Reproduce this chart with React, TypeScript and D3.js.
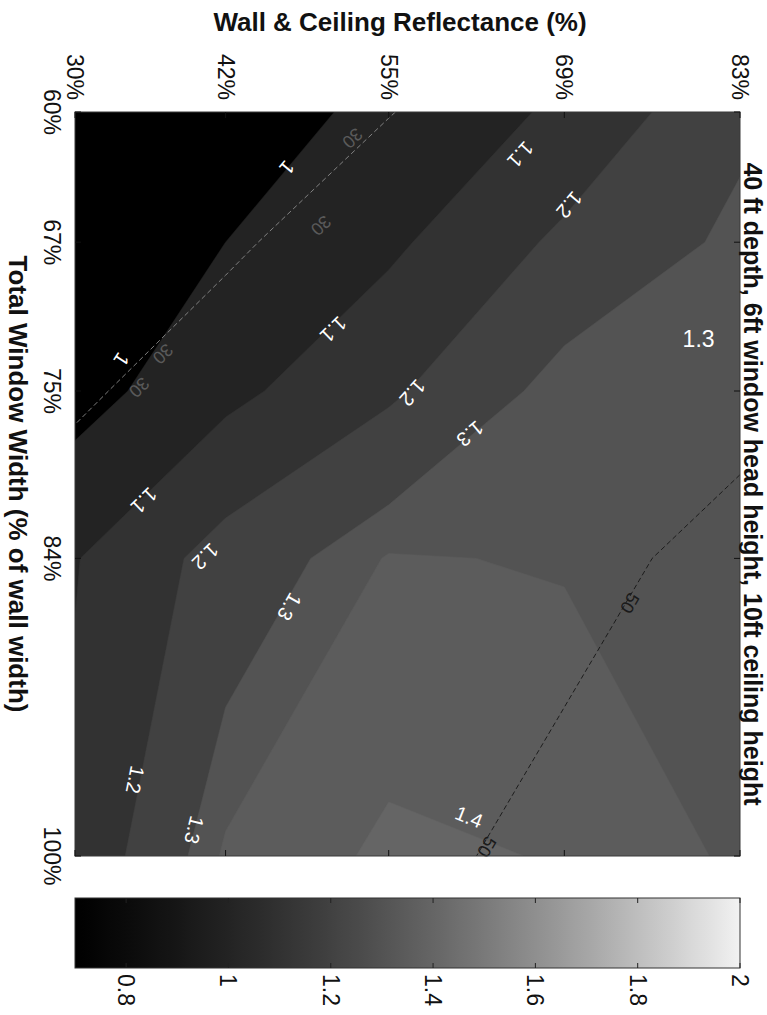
import React from "react";
import * as d3 from "d3";

// ---- data ----
const windowWidthTicks = [60, 67, 75, 84, 100]; // Total window width (% of wall width)
const reflectanceTicks = [30, 42, 55, 69, 83]; // Wall & ceiling reflectance (%)

// rows: window width (60 -> 100), cols: reflectance (30 -> 83)
const ratioGrid: number[][] = [
  [0.8, 0.98, 1.01, 1.12, 1.28],
  [0.88, 1.0, 1.081, 1.22, 1.32],
  [0.96, 1.074, 1.183, 1.335, 1.33],
  [1.095, 1.24, 1.355, 1.345, 1.33],
  [1.12, 1.36, 1.41, 1.397, 1.34],
];
const ratioLevels = [1.0, 1.1, 1.2, 1.3, 1.35, 1.4];

// secondary metric drawn as dashed isolines (labels 30 / 50)
const percentGrid: number[][] = [
  [20, 25, 29.8, 35, 40],
  [24, 29, 34, 39, 44],
  [29, 33.5, 38.5, 43.5, 48],
  [34, 38, 43, 48, 52],
  [40, 44, 48, 52, 55],
];
const percentLevels = [30, 50];

const colorbarTicks = [0.8, 1, 1.2, 1.4, 1.6, 1.8, 2];
const colorRange = [0.7, 2];

const ratioLabels = [
  { text: "1", level: 1.0, reflectance: 46.9, width: 63.0 },
  { text: "1", level: 1.0, reflectance: 33.7, width: 73.3 },
  { text: "1.1", level: 1.1, reflectance: 65.5, width: 62.3 },
  { text: "1.1", level: 1.1, reflectance: 50.6, width: 71.7 },
  { text: "1.1", level: 1.1, reflectance: 35.5, width: 80.9 },
  { text: "1.2", level: 1.2, reflectance: 69.4, width: 65.0 },
  { text: "1.2", level: 1.2, reflectance: 56.9, width: 75.1 },
  { text: "1.2", level: 1.2, reflectance: 40.4, width: 83.9 },
  { text: "1.2", level: 1.2, reflectance: 34.8, width: 95.9 },
  { text: "1.3", level: 1.3, reflectance: 61.5, width: 77.3 },
  { text: "1.3", level: 1.3, reflectance: 47.1, width: 86.6 },
  { text: "1.3", level: 1.3, reflectance: 39.5, width: 98.6 },
  { text: "1.4", level: 1.4, reflectance: 61.4, width: 97.9 },
];
const ratioNotes = [{ text: "1.3", reflectance: 79.7, width: 72.2 }];

const percentLabels = [
  { text: "30", level: 30, reflectance: 52.1, width: 61.4 },
  { text: "30", level: 30, reflectance: 49.6, width: 66.1 },
  { text: "30", level: 30, reflectance: 37.0, width: 73.0 },
  { text: "30", level: 30, reflectance: 35.1, width: 74.8 },
  { text: "50", level: 50, reflectance: 74.2, width: 86.4 },
  { text: "50", level: 50, reflectance: 62.8, width: 99.5 },
];

const title = "40 ft depth, 6ft window head height, 10ft ceiling height";
const xTitle = "Total Window Width (% of wall width)";
const yTitle = "Wall & Ceiling Reflectance (%)";

// ---- helpers ----
const grayScale = d3
  .scalePow()
  .exponent(2)
  .domain(colorRange)
  .range([0, 242])
  .clamp(true);
const color = (v: number) => {
  const g = Math.round(grayScale(v));
  return `rgb(${g},${g},${g})`;
};

const FONT = "Liberation Sans, Arial, Helvetica, sans-serif";

export default function App() {
  const W = 767;
  const H = 1015;
  const plot = { left: 75, right: 740, top: 112, bottom: 856 };
  const cb = { top: 898, bottom: 968 };

  const xR = d3.scaleLinear().domain([30, 83]).range([plot.left, plot.right]);
  const yW = d3.scaleLinear().domain([60, 100]).range([plot.top, plot.bottom]);
  const uToR = d3
    .scaleLinear()
    .domain(reflectanceTicks.map((_, i) => i + 0.5))
    .range(reflectanceTicks)
    .clamp(true);
  const vToW = d3
    .scaleLinear()
    .domain(windowWidthTicks.map((_, i) => i + 0.5))
    .range(windowWidthTicks)
    .clamp(true);
  const project = (p: number[]) => [xR(uToR(p[0])), yW(vToW(p[1]))];

  const nx = reflectanceTicks.length;
  const ny = windowWidthTicks.length;
  const ratioContours = d3
    .contours()
    .size([nx, ny])
    .thresholds(ratioLevels)(ratioGrid.flat());
  const percentContours = d3
    .contours()
    .size([nx, ny])
    .thresholds(percentLevels)(percentGrid.flat());

  const areaPath = (mp: any) =>
    mp.coordinates
      .map((poly: number[][][]) =>
        poly
          .map(
            (ring) =>
              "M" +
              ring
                .map((p) =>
                  project(p)
                    .map((n) => n.toFixed(2))
                    .join(",")
                )
                .join("L") +
              "Z"
          )
          .join("")
      )
      .join("");

  const onBorder = (a: number[], b: number[]) => {
    const e = 0.5;
    const same = (k: number, v: number) =>
      Math.abs(a[k] - v) < e && Math.abs(b[k] - v) < e;
    return (
      same(0, plot.left) ||
      same(0, plot.right) ||
      same(1, plot.top) ||
      same(1, plot.bottom)
    );
  };

  const isolines = (mp: any) => {
    const lines: number[][][] = [];
    mp.coordinates.forEach((poly: number[][][]) =>
      poly.forEach((ring) => {
        const pts = ring.map(project);
        let cur: number[][] | null = null;
        for (let k = 0; k < pts.length - 1; k++) {
          const a = pts[k];
          const b = pts[k + 1];
          const degenerate = Math.abs(a[0] - b[0]) < 1e-6 && Math.abs(a[1] - b[1]) < 1e-6;
          if (onBorder(a, b)) {
            if (cur && cur.length > 1) lines.push(cur);
            cur = null;
            continue;
          }
          if (degenerate) continue;
          if (!cur) cur = [a];
          cur.push(b);
        }
        if (cur && cur.length > 1) lines.push(cur);
      })
    );
    return lines;
  };

  const linePath = (pts: number[][]) =>
    "M" + pts.map((p) => p.map((n) => n.toFixed(2)).join(",")).join("L");

  const angleNear = (lines: number[][][], p: number[]) => {
    let best = { d: Infinity, ang: 0 };
    lines.forEach((line) => {
      for (let k = 0; k < line.length - 1; k++) {
        const a = line[k];
        const b = line[k + 1];
        let dx = b[0] - a[0];
        let dy = b[1] - a[1];
        const len2 = dx * dx + dy * dy;
        if (len2 === 0) continue;
        const t = Math.max(0, Math.min(1, ((p[0] - a[0]) * dx + (p[1] - a[1]) * dy) / len2));
        const qx = a[0] + t * dx;
        const qy = a[1] + t * dy;
        const d = Math.hypot(p[0] - qx, p[1] - qy);
        if (d < best.d) {
          if (dy < 0 || (dy === 0 && dx < 0)) {
            dx = -dx;
            dy = -dy;
          }
          best = { d, ang: (Math.atan2(dy, dx) * 180) / Math.PI };
        }
      }
    });
    return best.ang;
  };

  const ratioLines = new Map<number, number[][][]>();
  ratioContours.forEach((c: any) => ratioLines.set(c.value, isolines(c)));
  const percentLines = new Map<number, number[][][]>();
  percentContours.forEach((c: any) => percentLines.set(c.value, isolines(c)));

  const cbX = d3.scaleLinear().domain(colorRange).range([plot.left, plot.right]);
  const gradStops = d3.range(0, 41).map((k) => ({
    offset: k / 40,
    col: color(colorRange[0] + ((colorRange[1] - colorRange[0]) * k) / 40),
  }));

  const tickLen = 6;
  const midY = (plot.top + plot.bottom) / 2;

  return (
    <svg
      width={W}
      height={H}
      viewBox={`0 0 ${W} ${H}`}
      style={{ position: "absolute", left: 0, top: 0, background: "#fff" }}
      fontFamily={FONT}
    >
      <defs>
        <clipPath id="plotClip">
          <rect x={plot.left} y={plot.top} width={plot.right - plot.left} height={plot.bottom - plot.top} />
        </clipPath>
        <linearGradient id="cbGrad" x1="0" x2="1" y1="0" y2="0">
          {gradStops.map((s, i) => (
            <stop key={i} offset={s.offset} stopColor={s.col} />
          ))}
        </linearGradient>
      </defs>

      {/* filled contour bands */}
      <g clipPath="url(#plotClip)">
        <rect
          x={plot.left}
          y={plot.top}
          width={plot.right - plot.left}
          height={plot.bottom - plot.top}
          fill={color(colorRange[0])}
        />
        {ratioContours.map((c: any, i: number) => (
          <path key={i} d={areaPath(c)} fill={color(c.value)} stroke={color(c.value)} strokeWidth={0.5} />
        ))}
        {percentContours.map((c: any, i: number) =>
          (percentLines.get(c.value) || []).map((ln, j) => (
            <path
              key={`${i}-${j}`}
              d={linePath(ln)}
              fill="none"
              stroke={c.value === 30 ? "#8c8c8c" : "#151515"}
              strokeWidth={0.9}
              strokeDasharray="5 3"
            />
          ))
        )}
      </g>

      {/* contour labels */}
      {ratioLabels.map((l, i) => {
        const p = [xR(l.reflectance), yW(l.width)];
        const ang = angleNear(ratioLines.get(l.level) || [], p);
        return (
          <text
            key={`rl${i}`}
            transform={`translate(${p[0]},${p[1]}) rotate(${ang})`}
            textAnchor="middle"
            dominantBaseline="central"
            fill="#fff"
            fontSize={20}
          >
            {l.text}
          </text>
        );
      })}
      {ratioNotes.map((l, i) => (
        <text
          key={`rn${i}`}
          x={xR(l.reflectance)}
          y={yW(l.width)}
          textAnchor="middle"
          dominantBaseline="central"
          fill="#fff"
          fontSize={23}
        >
          {l.text}
        </text>
      ))}
      {percentLabels.map((l, i) => {
        const p = [xR(l.reflectance), yW(l.width)];
        const ang = angleNear(percentLines.get(l.level) || [], p);
        return (
          <text
            key={`pl${i}`}
            transform={`translate(${p[0]},${p[1]}) rotate(${ang})`}
            textAnchor="middle"
            dominantBaseline="central"
            fill={l.level === 30 ? "#5a5a5a" : "#1a1a1a"}
            fontSize={18}
          >
            {l.text}
          </text>
        );
      })}

      {/* axes frame and ticks */}
      <rect
        x={plot.left}
        y={plot.top}
        width={plot.right - plot.left}
        height={plot.bottom - plot.top}
        fill="none"
        stroke="#3a3a3a"
        strokeWidth={1}
      />
      {reflectanceTicks.map((v, i) => (
        <g key={`rt${i}`} stroke="#111" strokeWidth={1}>
          <line x1={xR(v)} x2={xR(v)} y1={plot.top} y2={plot.top + tickLen} />
          <line x1={xR(v)} x2={xR(v)} y1={plot.bottom} y2={plot.bottom - tickLen} />
        </g>
      ))}
      {windowWidthTicks.map((v, i) => (
        <g key={`wt${i}`} stroke="#111" strokeWidth={1}>
          <line y1={yW(v)} y2={yW(v)} x1={plot.left} x2={plot.left + tickLen} />
          <line y1={yW(v)} y2={yW(v)} x1={plot.right} x2={plot.right - tickLen} />
        </g>
      ))}

      {/* reflectance tick labels (top) */}
      {reflectanceTicks.map((v, i) => (
        <text
          key={`rtl${i}`}
          transform={`translate(${xR(v)},${plot.top - 12}) rotate(90)`}
          textAnchor="end"
          dominantBaseline="central"
          fontSize={23}
          fill="#111"
        >
          {`${v}%`}
        </text>
      ))}
      {/* window width tick labels (left) */}
      {windowWidthTicks.map((v, i) => (
        <text
          key={`wtl${i}`}
          transform={`translate(${plot.left - 31},${yW(v)}) rotate(90)`}
          textAnchor="middle"
          fontSize={23}
          fill="#111"
        >
          {`${v}%`}
        </text>
      ))}

      {/* axis titles */}
      <text x={400} y={31} textAnchor="middle" fontSize={26} fontWeight="bold" fill="#111">
        {yTitle}
      </text>
      <text
        transform={`translate(9,${midY}) rotate(90)`}
        textAnchor="middle"
        fontSize={26}
        fontWeight="bold"
        fill="#111"
      >
        {xTitle}
      </text>
      <text
        transform={`translate(744,${midY}) rotate(90)`}
        textAnchor="middle"
        fontSize={25}
        fontWeight="bold"
        fill="#111"
      >
        {title}
      </text>

      {/* colorbar */}
      <rect
        x={cbX(colorRange[0])}
        y={cb.top}
        width={cbX(colorRange[1]) - cbX(colorRange[0])}
        height={cb.bottom - cb.top}
        fill="url(#cbGrad)"
        stroke="#333"
        strokeWidth={1}
      />
      {colorbarTicks.map((v, i) => (
        <g key={`cbt${i}`} stroke="#222" strokeWidth={1}>
          <line x1={cbX(v)} x2={cbX(v)} y1={cb.top} y2={cb.top + 5} />
          <line x1={cbX(v)} x2={cbX(v)} y1={cb.bottom} y2={cb.bottom - 5} />
        </g>
      ))}
      {colorbarTicks.map((v, i) => (
        <text
          key={`cbl${i}`}
          transform={`translate(${cbX(v)},${cb.bottom + 6}) rotate(90)`}
          textAnchor="start"
          dominantBaseline="central"
          fontSize={23}
          fill="#111"
        >
          {String(v)}
        </text>
      ))}
    </svg>
  );
}
